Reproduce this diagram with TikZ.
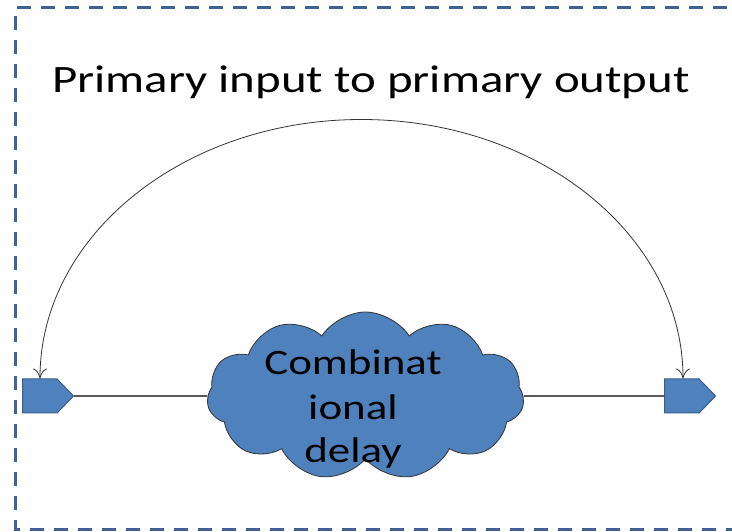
\documentclass[tikz,border=0pt]{standalone}
\usepackage{fontspec}
\setmainfont{Carlito}
\usetikzlibrary{shapes.symbols,arrows.meta,calc}
\definecolor{bfill}{HTML}{4F81BD}
\definecolor{bline}{HTML}{385D8A}
\definecolor{frame}{HTML}{3D6293}
\begin{document}
\begin{tikzpicture}[x=1pt,y=1pt,
  port/.style={signal, signal to=east, signal pointer angle=92, minimum width=51pt, minimum height=34pt, inner sep=0pt, fill=bfill, draw=bline, line width=1pt, anchor=west},
  wire/.style={line width=1.1pt, black},
  arcline/.style={line width=0.8pt, black!80, {To[length=10pt,width=14pt]}-{To[length=10pt,width=14pt]}}]
\useasboundingbox (0,0) rectangle (732,531);
% dashed frame
\draw[frame, line width=3pt, dash pattern=on 14pt off 10pt] (740,2) -- (15,2) -- (15,523) -- (740,523);
% title
\node[anchor=base, inner sep=0pt] (title) at (371,438.3) {\scalebox{1.26}[1]{\fontsize{38.8}{46}\selectfont Primary input to primary output}};
% ports
\node[port] (lp) at (22,135) {};
\node[port] (rp) at (664,135) {};
% cloud
\node[cloud, cloud puffs=11, cloud puff arc=115, aspect=1.9, minimum width=317pt, minimum height=168pt, inner sep=0pt, fill=bfill, draw=black!80, line width=0.8pt] (cl) at (365.5,135) {};
\node[inner sep=0pt, anchor=base] (ctext) at (353,156) {\scalebox{1.26}[1]{\fontsize{35.7}{44}\selectfont Combinat}};
\node[inner sep=0pt, anchor=base] (ctext2) at (353,111) {\scalebox{1.26}[1]{\fontsize{35.7}{44}\selectfont ional}};
\node[inner sep=0pt, anchor=base] (ctext3) at (353,68) {\scalebox{1.26}[1]{\fontsize{35.7}{44}\selectfont delay}};
% wires
\draw[wire] (lp.east) -- (cl.west);
\draw[wire] (cl.east) -- (rp.west);
% arc
\coordinate (la) at ([xshift=18pt]lp.north west);
\draw[arcline] (la) arc[start angle=180, end angle=0, x radius=321.5pt, y radius=259pt] coordinate (ra);
\end{tikzpicture}
\end{document}
